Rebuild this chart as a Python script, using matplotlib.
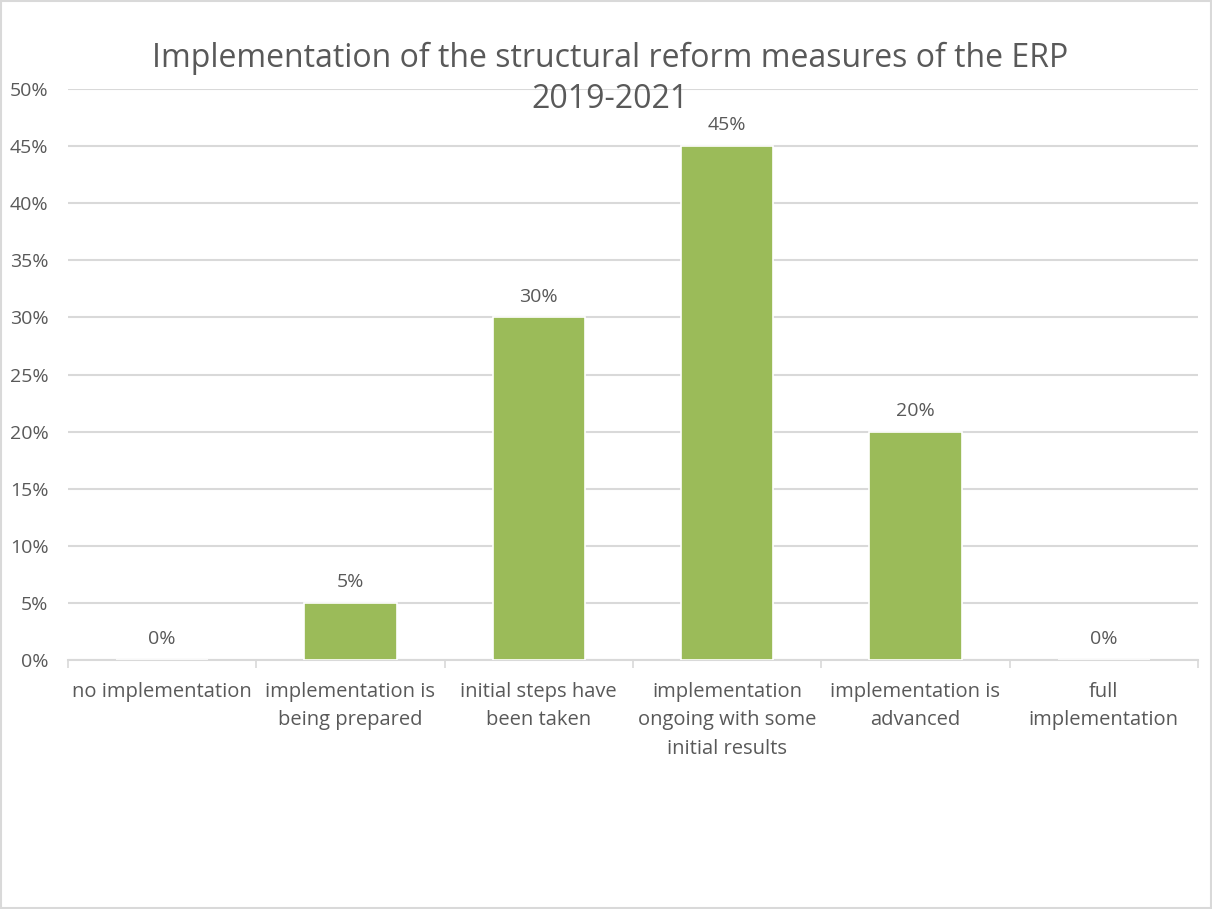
import matplotlib
matplotlib.use("Agg")
import matplotlib.pyplot as plt
from matplotlib.ticker import PercentFormatter, FixedLocator

categories = ['no implementation', 'implementation is\nbeing prepared', 'initial steps have\nbeen taken',
              'implementation\nongoing with some\ninitial results', 'implementation is\nadvanced', 'full\nimplementation']
shares = [0, 5, 30, 45, 20, 0]
title = 'Implementation of the structural reform measures of the ERP\n2019-2021'

plt.rcParams['font.family'] = ['Open Sans', 'DejaVu Sans']
txt = '#595959'
grid = '#D9D9D9'
green = '#9BBB59'

fig = plt.figure(figsize=(12.12, 9.09), dpi=100)
ax = fig.add_axes([0.0561, 0.2739, 0.9323, 0.6282])

x = list(range(len(categories)))
bars = ax.bar(x, shares, width=0.49, color=green, edgecolor='white', linewidth=1.2, zorder=3)
for xi, v in zip(x, shares):
    ax.annotate(f'{v}%', (xi, v), xytext=(0, 15), textcoords='offset points',
                ha='center', va='center', fontsize=14, color=txt)

ax.set_xlim(-0.5, len(categories) - 0.5)
ax.set_ylim(0, 50)
ax.set_yticks(range(0, 51, 5))
ax.yaxis.set_major_formatter(PercentFormatter(decimals=0))
ax.set_xticks(x)
ax.set_xticklabels(categories, fontsize=14.5, color=txt, linespacing=1.55)
ax.xaxis.set_minor_locator(FixedLocator([i - 0.5 for i in range(len(categories) + 1)]))
ax.tick_params(axis='x', which='major', length=0, pad=16)
ax.tick_params(axis='x', which='minor', length=6, color=grid, width=1.2)
ax.tick_params(axis='y', length=0, labelsize=14, labelcolor=txt, pad=14)

ax.grid(axis='y', color=grid, linewidth=1.5, zorder=0)
for s in ['top', 'right', 'left']:
    ax.spines[s].set_visible(False)
ax.spines['bottom'].set_color(grid)
ax.spines['bottom'].set_linewidth(1.5)

fig.text(0.503, 0.913, title, ha='center', va='center', fontsize=23, color=txt, linespacing=1.3)

border = plt.Rectangle((0.001, 0.001), 0.998, 0.998, transform=fig.transFigure,
                       fill=False, edgecolor='#D9D9D9', linewidth=1.5)
fig.patches.append(border)

fig.savefig('out.png', dpi=100, facecolor='white')
